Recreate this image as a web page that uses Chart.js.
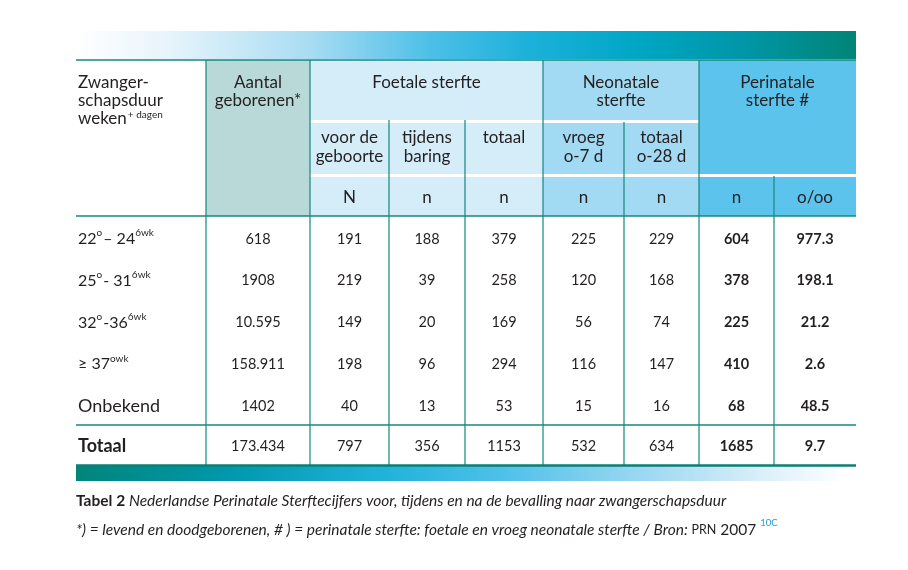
<!DOCTYPE html>
<html><head><meta charset="utf-8">
<script src="https://cdn.jsdelivr.net/npm/chart.js@4.4.0/dist/chart.umd.min.js"></script>
<style>html,body{margin:0;padding:0;background:#fff}#wrap{width:908px;height:570px}</style>
</head><body><div id="wrap"><canvas id="c" width="908" height="570"></canvas></div>
<script>
// ---------------- DATA ----------------
const rowLabels = [
  [['22',0],['o',1],['– 24',0],['6wk',1]],
  [['25',0],['o',1],['- 31',0],['6wk',1]],
  [['32',0],['o',1],['-36',0],['6wk',1]],
  [['≥ 37',0],['owk',1]],
  [['Onbekend',0]]
];
const totalLabel = 'Totaal';
const aantalGeborenen = ['618','1908','10.595','158.911','1402'];
const foetaalVoor    = [191, 219, 149, 198, 40];
const foetaalTijdens = [188, 39, 20, 96, 13];
const foetaalTotaal  = [379, 258, 169, 294, 53];
const neoVroeg       = [225, 120, 56, 116, 15];
const neoTotaal      = [229, 168, 74, 147, 16];
const periN          = [604, 378, 225, 410, 68];
const periPromille   = ['977.3', '198.1', '21.2', '2.6', '48.5'];
const totalsRow      = ['173.434', '797', '356', '1153', '532', '634', '1685', '9.7'];
const firstHeader    = ['Zwanger-', 'schapsduur', 'weken'];
const firstHeaderSup = '+ dagen';
const groupHeaders   = [['Aantal','geborenen*'], ['Foetale sterfte'], ['Neonatale','sterfte'], ['Perinatale','sterfte #']];
const subHeaders     = [['voor de','geboorte'], ['tijdens','baring'], ['totaal'], ['vroeg','o-7 d'], ['totaal','o-28 d']];
const unitLabels     = ['N','n','n','n','n','n','o/oo'];
const captionBold    = 'Tabel 2';
const captionText    = 'Nederlandse Perinatale Sterftecijfers voor, tijdens en na de bevalling naar zwangerschapsduur';
const footnoteParts  = ['*) = levend en doodgeborenen, # ) = perinatale sterfte: foetale en vroeg neonatale sterfte / Bron: ', 'PRN', ' 2007', '10C'];

const dataColumns = [aantalGeborenen, foetaalVoor, foetaalTijdens, foetaalTotaal, neoVroeg, neoTotaal, periN, periPromille];
const boldColumns = [false,false,false,false,false,false,true,true];

// ---------------- LAYOUT (scale units) ----------------
const COL = [0,130,234,313,389,467,548,623,698,780];
const R = {bandTop:0, bandBot:28, headTop:29, groupBot:89, subTop:92, subBot:143, unitTop:146, headBot:185, dataBot:394, totalBot:434, band2Top:435, band2Bot:450};
const INK = '#231f20';
const TEAL = '#13887e';
const FONT = 'Lato, "Noto Sans", sans-serif';

const tablePlugin = {
  id: 'tablePlugin',
  beforeDatasetsDraw(chart) {
    const ctx = chart.ctx, xs = chart.scales.x, ys = chart.scales.y;
    const X = v => xs.getPixelForValue(v), Y = v => ys.getPixelForValue(v);
    const rect = (x0,y0,x1,y1,fill) => { ctx.fillStyle = fill; ctx.fillRect(X(x0), Y(y0), X(x1)-X(x0), Y(y1)-Y(y0)); };
    ctx.save();
    // top band
    let g = ctx.createLinearGradient(X(0),0,X(780),0);
    g.addColorStop(0,'#ffffff'); g.addColorStop(0.12,'#e6f4fb'); g.addColorStop(0.3,'#a9dcf2');
    g.addColorStop(0.45,'#4fc0e8'); g.addColorStop(0.58,'#1cb1da'); g.addColorStop(0.72,'#00a6c4');
    g.addColorStop(0.86,'#0096a6'); g.addColorStop(1,'#008477');
    rect(0,R.bandTop,780,R.bandBot,g);
    // header fills
    rect(COL[1],R.headTop,COL[2],R.headBot,'#b8d9d8');
    const fo = '#d5ecf9', ne = '#a3daf3', pe = '#5cc4ec';
    rect(COL[2],R.headTop,COL[5],R.groupBot,fo); rect(COL[2],R.subTop,COL[5],R.subBot,fo); rect(COL[2],R.unitTop,COL[5],R.headBot,fo);
    rect(COL[5],R.headTop,COL[7],R.groupBot,ne); rect(COL[5],R.subTop,COL[7],R.subBot,ne); rect(COL[5],R.unitTop,COL[7],R.headBot,ne);
    rect(COL[7],R.headTop,COL[9],R.subBot,pe); rect(COL[7],R.unitTop,COL[9],R.headBot,pe);
    // bottom band
    g = ctx.createLinearGradient(X(0),0,X(780),0);
    g.addColorStop(0,'#00857a'); g.addColorStop(0.2,'#0099ad'); g.addColorStop(0.4,'#22b3dc');
    g.addColorStop(0.55,'#50c1e9'); g.addColorStop(0.75,'#a6dbf2'); g.addColorStop(0.9,'#e2f2fb'); g.addColorStop(0.99,'#ffffff');
    rect(0,R.band2Top,780,R.band2Bot,g);
    // lines
    ctx.strokeStyle = TEAL;
    const hl = (y,w) => { ctx.lineWidth = w; ctx.beginPath(); ctx.moveTo(X(0),Y(y)); ctx.lineTo(X(780),Y(y)); ctx.stroke(); };
    const vl = (x,y0,y1) => { ctx.lineWidth = 1.2; ctx.beginPath(); ctx.moveTo(X(x),Y(y0)); ctx.lineTo(X(x),Y(y1)); ctx.stroke(); };
    vl(COL[1],R.headTop,R.totalBot); vl(COL[2],R.headTop,R.totalBot);
    vl(COL[3],R.groupBot,R.totalBot); vl(COL[4],R.groupBot,R.totalBot);
    vl(COL[5],R.headTop,R.totalBot); vl(COL[6],R.groupBot+2,R.totalBot);
    vl(COL[7],R.headTop,R.totalBot); vl(COL[8],R.subBot+2,R.totalBot);
    hl(R.headTop,1.4); hl(R.headBot,1.4); hl(R.dataBot,1.4);
    ctx.strokeStyle = '#0b7f74'; hl(R.totalBot+0.5,2.4);

    // text
    ctx.fillStyle = INK; ctx.textBaseline = 'middle';
    const txt = (s,x,y,font,align) => { ctx.font = font; ctx.textAlign = align || 'center'; ctx.fillText(s,x,y); };
    const mid = i => (X(COL[i])+X(COL[i+1]))/2;
    const hf = '17px ' + FONT;
    // first header
    txt(firstHeader[0], X(2), Y(52), hf, 'left');
    txt(firstHeader[1], X(2), Y(70), hf, 'left');
    txt(firstHeader[2], X(2), Y(88), hf, 'left');
    ctx.font = hf; let w = ctx.measureText(firstHeader[2]).width;
    txt(firstHeaderSup, X(2)+w+1, Y(84), '10px ' + FONT, 'left');
    // group headers
    txt(groupHeaders[0][0], mid(1), Y(52), hf); txt(groupHeaders[0][1], mid(1), Y(70), hf);
    txt(groupHeaders[1][0], (X(COL[2])+X(COL[5]))/2, Y(52), hf);
    txt(groupHeaders[2][0], (X(COL[5])+X(COL[7]))/2, Y(52), hf); txt(groupHeaders[2][1], (X(COL[5])+X(COL[7]))/2, Y(70), hf);
    txt(groupHeaders[3][0], (X(COL[7])+X(COL[9]))/2, Y(52), hf); txt(groupHeaders[3][1], (X(COL[7])+X(COL[9]))/2, Y(70), hf);
    // sub headers
    subHeaders.forEach((lines,i) => lines.forEach((s,j) => txt(s, mid(i+2), Y(107+j*19), hf)));
    unitLabels.forEach((s,i) => txt(s, mid(i+2), Y(167), hf));
    // data rows
    const rowH = (R.dataBot - R.headBot)/5;
    rowLabels.forEach((segs,r) => {
      const yc = Y(R.headBot + rowH*(r+0.5) + 2);
      let x = X(2);
      segs.forEach(([s,sup]) => {
        const f = sup ? '10px ' + FONT : (s === 'Onbekend' ? '18px ' : '16px ') + FONT;
        ctx.font = f; ctx.textAlign = 'left';
        ctx.fillText(s, x, sup ? yc-6 : yc);
        x += ctx.measureText(s).width + (sup ? 1 : 0);
      });
      dataColumns.forEach((col,c) => {
        txt(String(col[r]), mid(c+1), yc, (boldColumns[c] ? 'bold ' : '') + '14.5px ' + FONT);
      });
    });
    const yt = Y((R.dataBot+R.totalBot)/2 + 1);
    txt(totalLabel, X(2), yt, 'bold 18px ' + FONT, 'left');
    totalsRow.forEach((s,c) => txt(s, mid(c+1), yt, (boldColumns[c] ? 'bold ' : '') + '14.5px ' + FONT));

    // caption
    const y1 = Y(470), y2 = Y(499);
    ctx.font = 'bold 15.5px ' + FONT; ctx.textAlign = 'left';
    ctx.fillText(captionBold, X(0), y1);
    w = ctx.measureText(captionBold + ' ').width;
    txt(captionText, X(0)+w, y1, 'italic 15.5px ' + FONT, 'left');
    let x = X(0);
    const parts = [[footnoteParts[0],'italic 15.5px '],[footnoteParts[1],'12.5px '],[footnoteParts[2],'15.5px ']];
    parts.forEach(([s,f]) => { ctx.font = f + FONT; ctx.textAlign='left'; ctx.fillText(s, x, y2); x += ctx.measureText(s).width; });
    ctx.fillStyle = '#1aa3de'; ctx.font = '9.5px ' + FONT; ctx.fillText(footnoteParts[3], x+4, y2-7);
    ctx.restore();
  }
};

new Chart(document.getElementById('c'), {
  type: 'scatter',
  data: { datasets: [{ data: [], pointRadius: 0 }] },
  options: {
    responsive: false, animation: false, devicePixelRatio: 1,
    layout: { padding: { left: 76, right: 52, top: 31, bottom: 89 } },
    plugins: { legend: { display: false }, tooltip: { enabled: false } },
    scales: {
      x: { type: 'linear', min: 0, max: 780, display: false },
      y: { type: 'linear', min: 0, max: 450, reverse: true, display: false }
    }
  },
  plugins: [tablePlugin]
});
</script>
</body></html>
